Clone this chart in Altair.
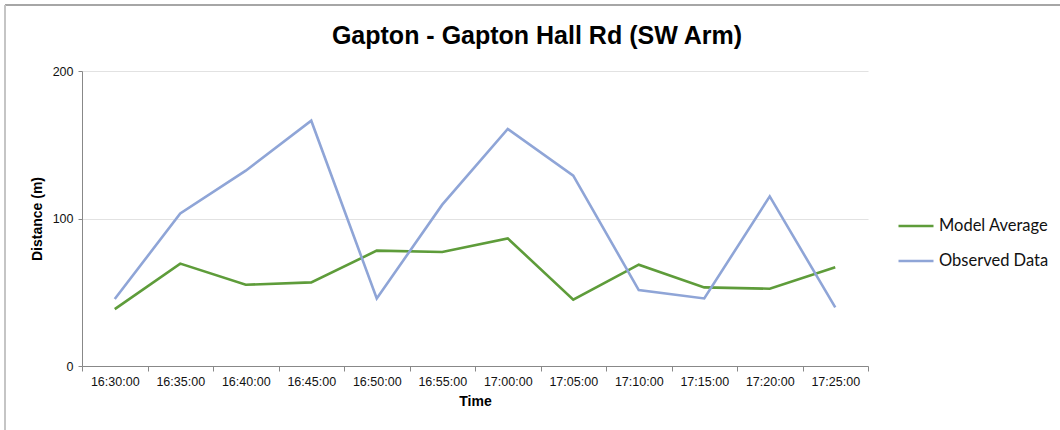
import altair as alt
import pandas as pd

# Queue length survey: Gapton - Gapton Hall Rd (SW Arm)
times = ["16:30:00", "16:35:00", "16:40:00", "16:45:00", "16:50:00", "16:55:00",
         "17:00:00", "17:05:00", "17:10:00", "17:15:00", "17:20:00", "17:25:00"]
model_average = [38.6, 69.4, 55.1, 56.7, 78.2, 77.3, 86.5, 45.0, 68.7, 53.3, 52.4, 66.9]
observed_data = [45.4, 103.4, 132.4, 166.3, 45.8, 109.4, 160.7, 129.0, 51.5, 45.8, 115.0, 39.7]

series_names = ["Model Average", "Observed Data"]
series_colors = ["#5e9c3a", "#8fa5d7"]

rows = []
for name, values in zip(series_names, [model_average, observed_data]):
    for t, v in zip(times, values):
        rows.append({"Time": t, "Distance": v, "Series": name})
df = pd.DataFrame(rows)

PLOT_W, PLOT_H = 786, 295
PAD_L, PAD_T = 82, 71

lines = alt.Chart(df).mark_line(strokeWidth=2.6).encode(
    x=alt.X(
        "Time:N",
        sort=times,
        bandPosition=0.5,
        scale=alt.Scale(type="band", paddingInner=0, paddingOuter=0),
        axis=alt.Axis(
            title="Time",
            labelAngle=0,
            tickBand="extent",
            tickSize=5,
            labelPadding=4,
            titlePadding=7,
            grid=False,
        ),
    ),
    y=alt.Y(
        "Distance:Q",
        scale=alt.Scale(domain=[0, 200], nice=False),
        axis=alt.Axis(
            title="Distance (m)",
            values=[0, 100, 200],
            tickSize=4,
            labelPadding=5,
            titlePadding=8,
            grid=True,
        ),
    ),
    color=alt.Color(
        "Series:N",
        scale=alt.Scale(domain=series_names, range=series_colors),
        legend=alt.Legend(
            title=None,
            orient="none",
            legendX=815,
            legendY=136,
            symbolType="stroke",
            symbolSize=1225,
            symbolStrokeWidth=2.6,
            labelFont="Lato",
            labelFontSize=16.5,
            labelColor="#111111",
            labelOffset=4,
            rowPadding=7,
            padding=0,
        ),
    ),
    order=alt.Order("Series:N"),
)

# Outer frame of the chart box (top and left edges)
frame_top = alt.Chart(df).mark_rule(color="#a6a6a6", strokeWidth=1.5).encode(
    x=alt.value(-77), x2=alt.value(1060 - PAD_L), y=alt.value(-66)
)
frame_left = alt.Chart(df).mark_rule(color="#c4c4c4", strokeWidth=1.5).encode(
    x=alt.value(-77), y=alt.value(-66), y2=alt.value(430 - PAD_T)
)

chart = alt.layer(frame_top, frame_left, lines).properties(
    width=PLOT_W,
    height=PLOT_H,
    background="white",
    autosize=alt.AutoSizeParams(type="none"),
    padding={"left": PAD_L, "top": PAD_T, "right": 1060 - PAD_L - PLOT_W, "bottom": 430 - PAD_T - PLOT_H},
    title=alt.Title(
        "Gapton - Gapton Hall Rd (SW Arm)",
        font="Liberation Sans",
        fontSize=25,
        fontWeight="bold",
        color="#000000",
        anchor="middle",
        dx=62,
        offset=-45,
    ),
).configure_view(
    stroke=None
).configure_axis(
    labelFont="Liberation Sans",
    labelFontSize=12.5,
    labelColor="#111111",
    titleFont="Liberation Sans",
    titleFontSize=14,
    titleFontWeight="bold",
    titleColor="#000000",
    domainColor="#888888",
    tickColor="#888888",
    gridColor="#e2e2e2",
    gridWidth=1.2,
)

chart.save("out.html", embed_options={"renderer": "svg", "actions": False})
